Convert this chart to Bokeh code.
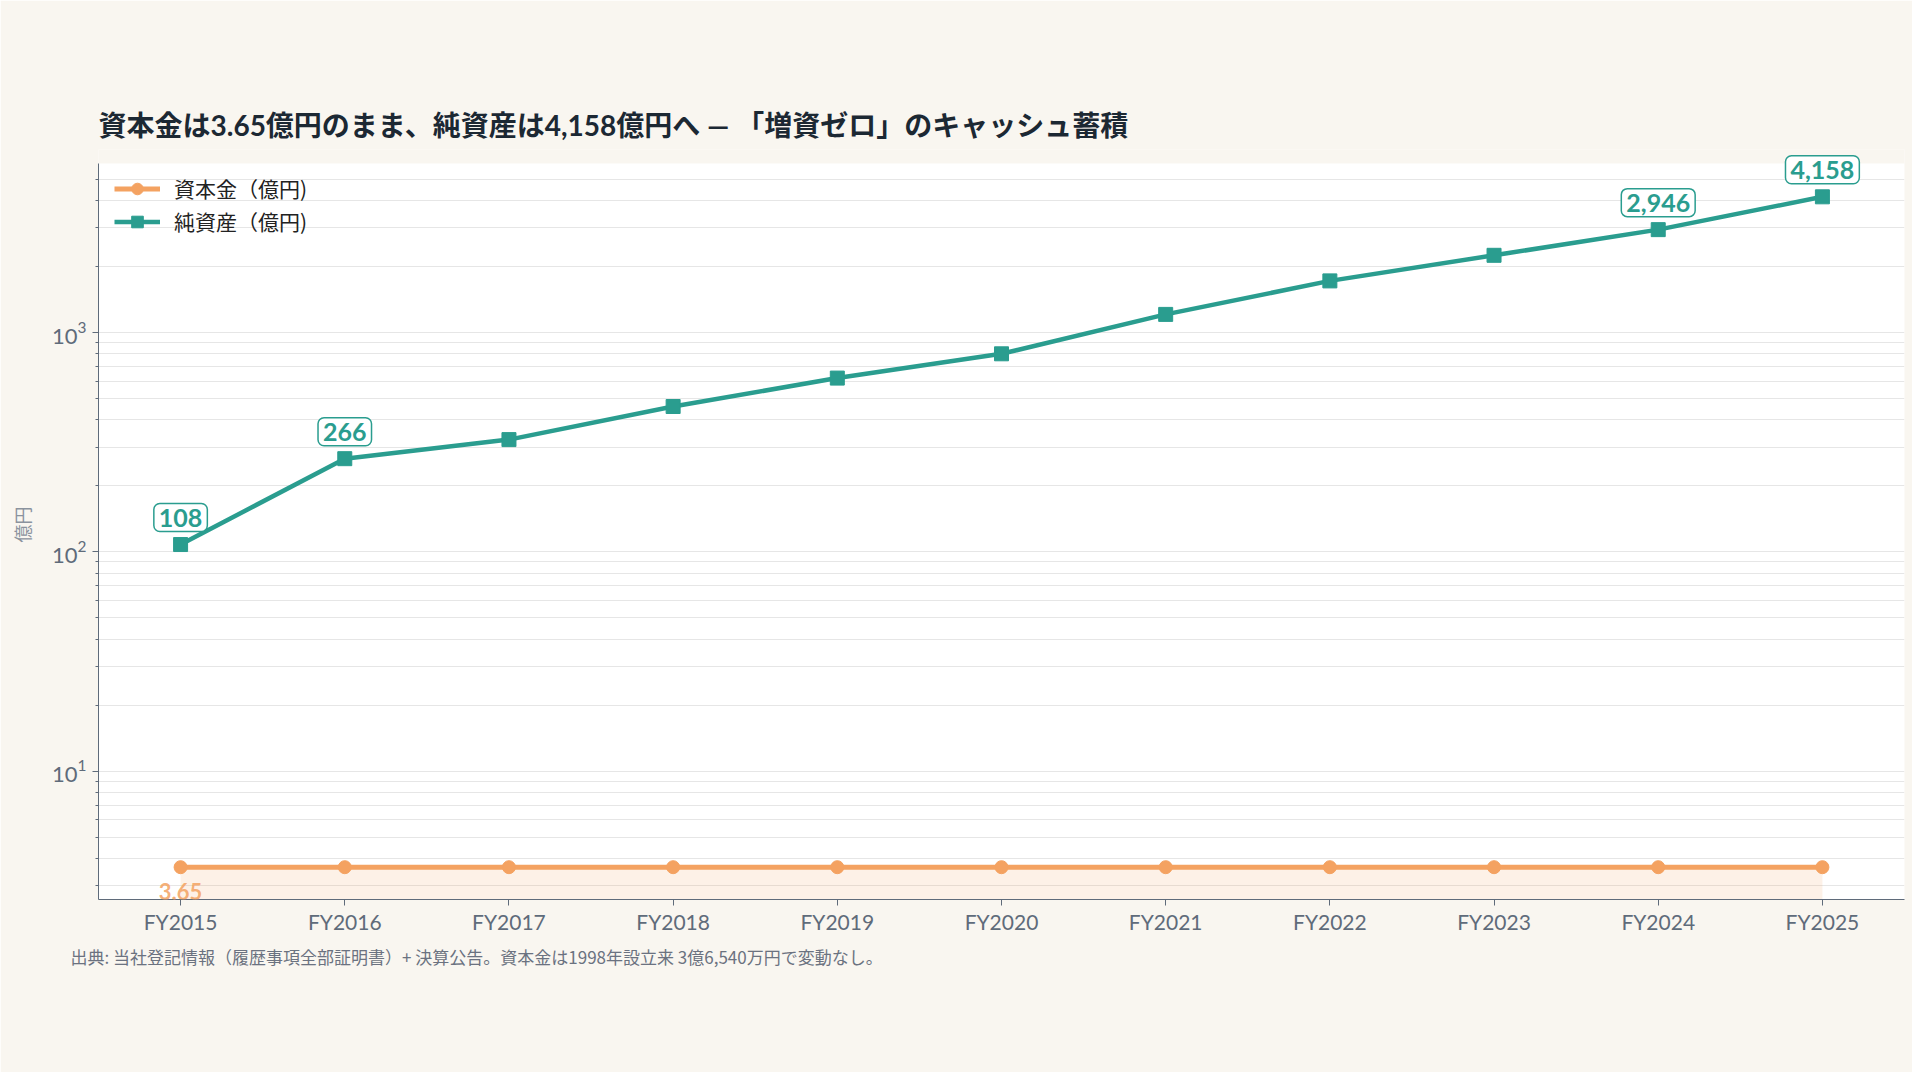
from bokeh.plotting import figure
from bokeh.models import Range1d, FixedTicker, Label, LogTickFormatter, Title, BoxAnnotation
from bokeh.embed import file_html
from bokeh.resources import INLINE

# data
years = ["FY2015", "FY2016", "FY2017", "FY2018", "FY2019", "FY2020",
         "FY2021", "FY2022", "FY2023", "FY2024", "FY2025"]
capital = [3.65, 3.65, 3.65, 3.65, 3.65, 3.65, 3.65, 3.65, 3.65, 3.65, 3.65]
net_assets = [108, 266, 325, 460, 620, 800, 1210, 1720, 2250, 2946, 4158]
boxed_years = ["FY2015", "FY2016", "FY2024", "FY2025"]
y_major = [10, 100, 1000]
y_minor = [3, 4, 5, 6, 7, 8, 9, 20, 30, 40, 50, 60, 70, 80, 90,
           200, 300, 400, 500, 600, 700, 800, 900, 2000, 3000, 4000, 5000]

TEAL = "#2a9d8f"
ORANGE = "#f4a261"
BG = "#f9f6f0"
INK = "#1c2833"
GREY = "#5f6b7a"
FONT = "Lato, 'Noto Sans CJK JP', sans-serif"
JP = "'Noto Sans CJK JP', sans-serif"

# white plot area ends at y_top; the frame goes a little higher so the
# top value box is not cut off
y_bottom, y_top, y_end = 2.6, 5900, 6833

x = list(range(len(years)))

p = figure(width=1912, height=1072, y_axis_type="log",
           x_range=Range1d(-0.5, len(years) - 0.5), y_range=Range1d(y_bottom, y_end),
           output_backend="svg", toolbar_location=None,
           min_border_left=98, min_border_right=8, min_border_top=149, min_border_bottom=173)
p.background_fill_color = BG
p.border_fill_color = BG
p.outline_line_color = None
p.add_layout(BoxAnnotation(top=y_top, fill_color="white", fill_alpha=1.0,
                           line_color=None, level="image"))

p.title.text = "資本金は3.65億円のまま、純資産は4,158億円へ — 「増資ゼロ」のキャッシュ蓄積"
p.title.text_font = FONT
p.title.text_font_size = "28px"
p.title.text_font_style = "bold"
p.title.text_color = INK
p.title.standoff = 16

# shaded area under the capital line
p.varea(x=x, y1=[y_bottom] * len(x), y2=capital, fill_color=ORANGE, fill_alpha=0.15)

p.line(x, capital, line_color=ORANGE, line_width=5, legend_label="資本金（億円)")
p.scatter(x, capital, marker="circle", size=13, color=ORANGE, legend_label="資本金（億円)")
p.line(x, net_assets, line_color=TEAL, line_width=4.5, legend_label="純資産（億円)")
p.scatter(x, net_assets, marker="square", size=14, color=TEAL, legend_label="純資産（億円)")

# boxed value labels
for yr in boxed_years:
    i = years.index(yr)
    p.add_layout(Label(x=i, y=net_assets[i], text=f"{net_assets[i]:,}",
                       text_align="center", text_baseline="middle", y_offset=27,
                       text_font=FONT, text_font_size="25px", text_font_style="bold",
                       text_color=TEAL, background_fill_color="white",
                       border_line_color=TEAL, border_line_width=1.5,
                       padding=5, border_radius=6))

p.add_layout(Label(x=0, y=capital[0], text=f"{capital[0]:.2f}",
                   text_align="center", text_baseline="middle", y_offset=-24,
                   text_font=FONT, text_font_size="22px", text_font_style="bold",
                   text_color=ORANGE, text_alpha=0.85))

# footnote
p.add_layout(Title(text="出典: 当社登記情報（履歴事項全部証明書）+ 決算公告。資本金は1998年設立来 3億6,540万円で変動なし。",
                   align="left", offset=-28, standoff=10, text_font=JP,
                   text_font_size="17px", text_font_style="normal",
                   text_color="#6b7280"), "below")

# axes
p.xaxis.ticker = FixedTicker(ticks=x)
p.xaxis.major_label_overrides = {i: yr for i, yr in enumerate(years)}
p.xaxis.minor_tick_line_color = None
p.yaxis.ticker = FixedTicker(ticks=y_major, minor_ticks=y_minor)
p.yaxis.formatter = LogTickFormatter()
p.yaxis.bounds = (y_bottom, y_top)
p.yaxis.axis_label = "億円"
p.yaxis.axis_label_text_font = JP
p.yaxis.axis_label_text_font_style = "normal"
p.yaxis.axis_label_text_font_size = "18px"
p.yaxis.axis_label_text_color = "#8b939e"
p.yaxis.axis_label_standoff = 14
for ax in (p.xaxis, p.yaxis):
    ax.axis_line_color = GREY
    ax.major_tick_line_color = GREY
    ax.major_tick_out = 6
    ax.major_tick_in = 0
    ax.major_label_text_font = FONT
    ax.major_label_text_color = GREY
    ax.major_label_standoff = 6
p.xaxis.major_label_standoff = 3
p.xaxis.major_label_text_font_size = "21px"
p.yaxis.major_label_text_font_size = "22px"
p.yaxis.minor_tick_line_color = GREY
p.yaxis.minor_tick_out = 3
p.yaxis.minor_tick_in = 0

p.xgrid.grid_line_color = None
p.ygrid.grid_line_color = "#e6e6e6"
p.ygrid.minor_grid_line_color = "#e6e6e6"

p.legend.location = (16, 663)
p.legend.background_fill_alpha = 0
p.legend.border_line_color = None
p.legend.padding = 8
p.legend.spacing = 3
p.legend.glyph_width = 46
p.legend.glyph_height = 29
p.legend.label_height = 29
p.legend.label_standoff = 14
p.legend.label_text_font = JP
p.legend.label_text_font_size = "21px"
p.legend.label_text_color = "#222222"

html = file_html(p, INLINE)
html = html.replace("<body>", f'<body style="background-color:{BG};">', 1)
open("out.html", "w").write(html)
